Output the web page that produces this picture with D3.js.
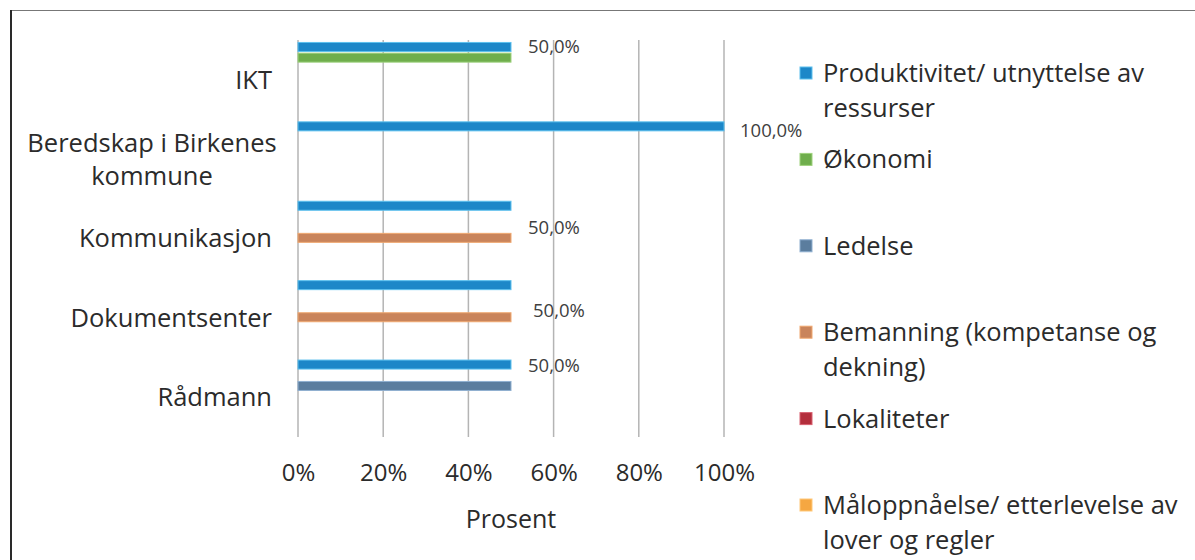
<!DOCTYPE html>
<html>
<head>
<meta charset="utf-8">
<script src="https://cdnjs.cloudflare.com/ajax/libs/d3/7.8.5/d3.min.js"></script>
<style>
  body { margin: 0; background: #fff; }
  svg { display: block; font-family: "Open Sans", sans-serif; }
</style>
</head>
<body>
<svg id="chart" width="1195" height="560"></svg>
<script>
// categories (top to bottom)
const categories = ["IKT", "Beredskap i Birkenes kommune", "Kommunikasjon", "Dokumentsenter", "Rådmann"];

// series names (legend order)
const seriesNames = [
  "Produktivitet/ utnyttelse av ressurser",
  "Økonomi",
  "Ledelse",
  "Bemanning (kompetanse og dekning)",
  "Lokaliteter",
  "Måloppnåelse/ etterlevelse av lover og regler"
];

// values per series, one per category
const produktivitet = [0.5, 1.0, 0.5, 0.5, 0.5];
const okonomi = [0.5, 0, 0, 0, 0];
const ledelse = [0, 0, 0, 0, 0.5];
const bemanning = [0, 0, 0.5, 0.5, 0];
const lokaliteter = [0, 0, 0, 0, 0];
const maloppnaelse = [0, 0, 0, 0, 0];

// data labels shown in the chart
const labelCategories = ["IKT", "Beredskap i Birkenes kommune", "Kommunikasjon", "Dokumentsenter", "Rådmann"];
const labelValues = [0.5, 1.0, 0.5, 0.5, 0.5];

const xTicks = [0, 0.2, 0.4, 0.6, 0.8, 1.0];

const colors = ["#1d87c8", "#6fae4c", "#5b7d9e", "#c9845b", "#b32e3c", "#f5a742"];
const strokeColors = ["#5cc0ee", "#9fd27e", "#8fb0d0", "#f0a870", "#d86070", "#ffc878"];

const allSeries = [produktivitet, okonomi, ledelse, bemanning, lokaliteter, maloppnaelse];

const data = [];
categories.forEach((c, ci) => {
  allSeries.forEach((s, si) => {
    data.push({ cat: c, series: seriesNames[si], si: si, value: s[ci] });
  });
});

const font = "Open Sans";
const textColor = "#2b2b2b";
const svg = d3.select("#chart");

// frame
svg.append("line").attr("x1", 10).attr("x2", 1195).attr("y1", 10.5).attr("y2", 10.5)
  .attr("stroke", "#777").attr("stroke-width", 1.2);
svg.append("line").attr("x1", 11).attr("x2", 11).attr("y1", 10).attr("y2", 560)
  .attr("stroke", "#2a2a2a").attr("stroke-width", 2);

const plot = { left: 298, right: 724, top: 40, bottom: 437 };

const x = d3.scaleLinear().domain([0, 1]).range([plot.left, plot.right]);
const y0 = d3.scaleBand().domain(categories).range([plot.top, plot.bottom]);
const groupH = 64.2;
const y1 = d3.scaleBand().domain(seriesNames).range([0, groupH]);
const barH = 9;
// bars sit a little above the band centre in the reference
const groupOffset = (y0.bandwidth() - groupH) / 2 - 6;

// gridlines
svg.append("g")
  .selectAll("line")
  .data(xTicks)
  .enter()
  .append("line")
  .attr("x1", d => x(d))
  .attr("x2", d => x(d))
  .attr("y1", plot.top)
  .attr("y2", plot.bottom)
  .attr("stroke", "#b4b4b4")
  .attr("stroke-width", 1.5);

// bars
svg.append("g")
  .selectAll("rect")
  .data(data.filter(d => d.value > 0))
  .enter()
  .append("rect")
  .attr("x", x(0))
  .attr("y", d => y0(d.cat) + groupOffset + y1(d.series) + (y1.bandwidth() - barH) / 2)
  .attr("width", d => x(d.value) - x(0))
  .attr("height", barH)
  .attr("fill", d => colors[d.si])
  .attr("stroke", d => strokeColors[d.si])
  .attr("stroke-width", 1);

// data labels
const labelNudge = {
  "IKT": { dx: 17, dy: 0 },
  "Beredskap i Birkenes kommune": { dx: 16, dy: 4 },
  "Kommunikasjon": { dx: 17, dy: 22 },
  "Dokumentsenter": { dx: 22, dy: 25 },
  "Rådmann": { dx: 17, dy: 1 }
};
const slot0 = c => y0(c) + groupOffset + y1(seriesNames[0]) + y1.bandwidth() / 2;

svg.append("g")
  .selectAll("text")
  .data(labelCategories.map((c, i) => ({ cat: c, value: labelValues[i] })))
  .enter()
  .append("text")
  .attr("x", d => x(d.value) + labelNudge[d.cat].dx)
  .attr("y", d => slot0(d.cat) + labelNudge[d.cat].dy)
  .attr("dy", "0.35em")
  .attr("font-size", 18.5)
  .attr("font-family", font)
  .attr("fill", "#404040")
  .text(d => d3.format(".1%")(d.value).replace(".", ","));

// x axis
const xAxis = d3.axisBottom(x).tickValues(xTicks).tickFormat(d3.format(".0%")).tickSize(0);
const xAxisGroup = svg.append("g").attr("transform", `translate(0, ${plot.bottom})`).call(xAxis);
xAxisGroup.select(".domain").remove();
xAxisGroup.selectAll("text")
  .attr("y", 36)
  .attr("dy", "0.35em")
  .attr("font-size", 24)
  .attr("font-family", font)
  .attr("fill", textColor);

svg.append("text")
  .attr("x", (plot.left + plot.right) / 2)
  .attr("y", 519)
  .attr("dy", "0.35em")
  .attr("text-anchor", "middle")
  .attr("font-size", 25)
  .attr("font-family", font)
  .attr("fill", textColor)
  .text("Prosent");

// y axis labels
const yAxis = d3.axisLeft(y0).tickSize(0).tickFormat("");
const yAxisGroup = svg.append("g").attr("transform", `translate(272, 0)`).call(yAxis);
yAxisGroup.select(".domain").remove();

const catLines = {
  "Beredskap i Birkenes kommune": ["Beredskap i Birkenes", "kommune"]
};
const lineH = 33;

yAxisGroup.selectAll(".tick").each(function(d) {
  const lines = catLines[d] || [d];
  const t = d3.select(this).append("text")
    .attr("font-size", 25.5)
    .attr("font-family", font)
    .attr("fill", textColor)
    .attr("text-anchor", lines.length > 1 ? "middle" : "end");
  lines.forEach((l, i) => {
    t.append("tspan")
      .attr("x", lines.length > 1 ? -120 : 0)
      .attr("y", (i - (lines.length - 1) / 2) * lineH)
      .attr("dy", "0.35em")
      .text(l);
  });
});

// legend
const legendLines = [
  ["Produktivitet/ utnyttelse av", "ressurser"],
  ["Økonomi"],
  ["Ledelse"],
  ["Bemanning (kompetanse og", "dekning)"],
  ["Lokaliteter"],
  ["Måloppnåelse/ etterlevelse av", "lover og regler"]
];
const legend = svg.append("g");
const legendItems = legend.selectAll("g")
  .data(seriesNames)
  .enter()
  .append("g")
  .attr("transform", (d, i) => `translate(800, ${73 + i * 86.4})`);

legendItems.append("rect")
  .attr("x", 0)
  .attr("y", -6)
  .attr("width", 12)
  .attr("height", 12)
  .attr("fill", (d, i) => colors[i])
  .attr("stroke", (d, i) => strokeColors[i])
  .attr("stroke-width", 1);

legendItems.append("text")
  .attr("font-size", 25.5)
  .attr("font-family", font)
  .attr("fill", textColor)
  .each(function(d, i) {
    const t = d3.select(this);
    legendLines[i].forEach((l, j) => {
      t.append("tspan")
        .attr("x", 23)
        .attr("y", j * 35)
        .attr("dy", "0.35em")
        .text(l);
    });
  });
</script>
</body>
</html>
